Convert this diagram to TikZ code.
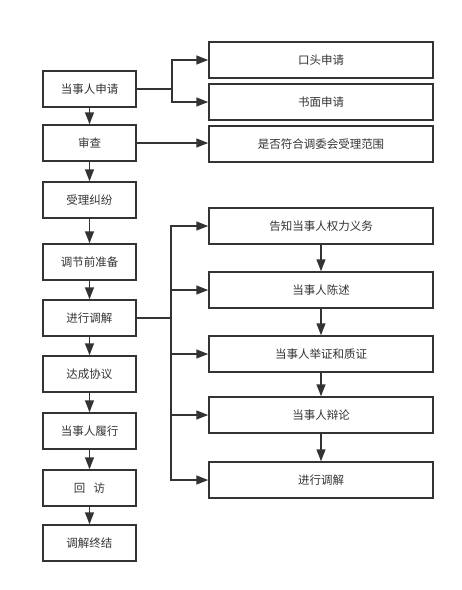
\documentclass[tikz,border=0pt]{standalone}
\usepackage{fontspec}
\newfontfamily\cjk{Noto Sans CJK SC}
\usetikzlibrary{arrows.meta}
\definecolor{ln}{HTML}{333333}
\tikzset{
  x=1pt,y=-1pt,
  box/.style={draw=ln,line width=1.5pt,rectangle,minimum height=36pt,inner sep=0pt,text=ln,font=\cjk\fontsize{11.5}{13}\selectfont},
  lbox/.style={box,minimum width=93pt},
  rbox/.style={box,minimum width=224pt},
  arr/.style={draw=ln,line width=1.5pt,-{Triangle[length=12pt,width=9pt]}},
  ln/.style={draw=ln,line width=1.5pt}
}
\begin{document}
\begin{tikzpicture}
\useasboundingbox (0,0) rectangle (462,590);
% left column
\node[lbox] (l1) at (89.5,89) {当事人申请};
\node[lbox] (l2) at (89.5,143) {审查};
\node[lbox] (l3) at (89.5,200) {受理纠纷};
\node[lbox] (l4) at (89.5,262) {调节前准备};
\node[lbox] (l5) at (89.5,318) {进行调解};
\node[lbox] (l6) at (89.5,374) {达成协议};
\node[lbox] (l7) at (89.5,431) {当事人履行};
\node[lbox] (l8) at (89.5,488) {回\hspace{0.7em}访};
\node[lbox] (l9) at (89.5,543) {调解终结};
% right column
\node[rbox] (r1) at (321,60) {口头申请};
\node[rbox] (r2) at (321,102) {书面申请};
\node[rbox] (r3) at (321,144) {是否符合调委会受理范围};
\node[rbox] (r4) at (321,226) {告知当事人权力义务};
\node[rbox] (r5) at (321,290) {当事人陈述};
\node[rbox] (r6) at (321,354) {当事人举证和质证};
\node[rbox] (r7) at (321,415) {当事人辩论};
\node[rbox] (r8) at (321,480) {进行调解};
% left vertical arrows
\foreach \a/\b in {l1/l2,l2/l3,l3/l4,l4/l5,l5/l6,l6/l7,l7/l8,l8/l9}
  \draw[arr] (\a.south) -- (\b.north);
% right vertical arrows
\foreach \a/\b in {r4/r5,r5/r6,r6/r7,r7/r8}
  \draw[arr] (\a.south) -- (\b.north);
% top branch
\coordinate (b1) at (172,89);
\draw[ln] (l1.east) -- (b1);
\draw[arr] (b1) |- (r1.west);
\draw[arr] (b1) |- (r2.west);
\draw[arr] (l2.east) -- (l2.east -| r3.west);
% lower branch
\coordinate (b2) at (171,318);
\draw[ln] (l5.east) -- (b2);
\foreach \r in {r4,r5,r6,r7,r8}
  \draw[arr] (b2) |- (\r.west);
\end{tikzpicture}
\end{document}
